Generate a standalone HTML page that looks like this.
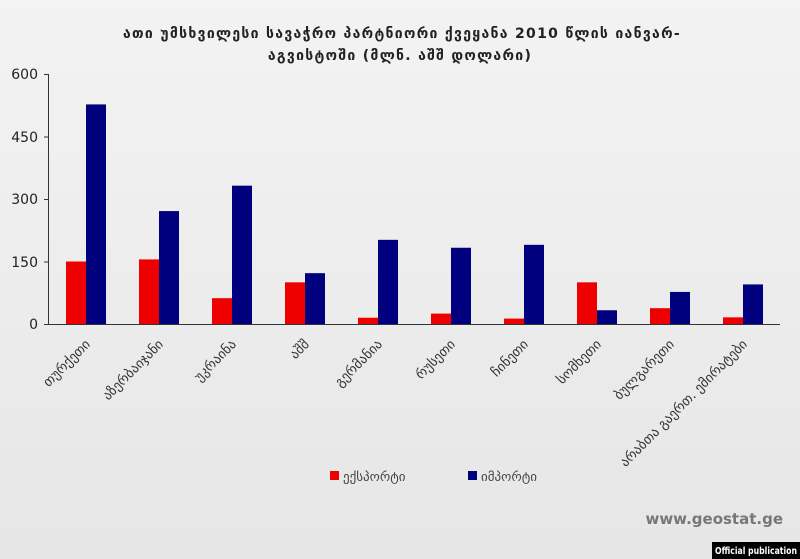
<!DOCTYPE html>
<html><head><meta charset="utf-8"><style>
body{margin:0;background:#eeeeee;}
svg{display:block}
text{font-family:"DejaVu Sans","Liberation Sans",sans-serif;}
</style></head><body>
<svg width="800" height="559" viewBox="0 0 800 559" xmlns="http://www.w3.org/2000/svg">
<defs><linearGradient id="g" x1="0" y1="0" x2="0" y2="1"><stop offset="0" stop-color="#f3f3f3"/><stop offset="1" stop-color="#e6e6e6"/></linearGradient></defs>
<rect width="800" height="559" fill="url(#g)"/>
<text x="402" y="38" text-anchor="middle" font-size="14" font-weight="bold" letter-spacing="1.3" fill="#222">ათი უმსხვილესი სავაჭრო პარტნიორი ქვეყანა 2010 წლის იანვარ-</text>
<text x="400" y="60" text-anchor="middle" font-size="14" font-weight="bold" letter-spacing="1.3" fill="#222">აგვისტოში  (მლნ. აშშ დოლარი)</text>
<g font-family="Liberation Sans" font-size="14" fill="#222" text-anchor="end">
<text x="38" y="79">600</text><text x="38" y="142">450</text><text x="38" y="204">300</text><text x="38" y="267">150</text><text x="38" y="329">0</text>
</g>
<g stroke="#333" stroke-width="1">
<line x1="48.5" y1="74" x2="48.5" y2="324"/>
<line x1="44" y1="74.5" x2="48" y2="74.5"/><line x1="44" y1="137" x2="48" y2="137"/><line x1="44" y1="199.5" x2="48" y2="199.5"/><line x1="44" y1="262" x2="48" y2="262"/><line x1="44" y1="324.5" x2="48" y2="324.5"/>
<line x1="48" y1="324.5" x2="780" y2="324.5"/>
</g>
<g id="bars"></g>
<g font-size="13.5" fill="#333" id="labels"></g>
<rect x="330" y="471" width="9" height="9" fill="#e00"/>
<text x="343" y="481" font-size="13" fill="#444">ექსპორტი</text>
<rect x="468" y="471" width="9" height="9" fill="#00007f"/>
<text x="481" y="481" font-size="13" fill="#444">იმპორტი</text>
<text x="783" y="524" text-anchor="end" font-family="Liberation Sans" font-size="15" font-weight="bold" fill="#777">www.geostat.ge</text>
<rect x="712" y="542" width="88" height="17" fill="#000"/>
<text x="715" y="554" font-family="Liberation Sans" font-size="10" font-weight="bold" fill="#fff" textLength="82" lengthAdjust="spacingAndGlyphs">Official publication</text>
<script>
var d=[["თურქეთი",150,527],["აზერბაიჯანი",155,271],["უკრაინა",62,332],["აშშ",100,122],["გერმანია",15,202],["რუსეთი",25,183],["ჩინეთი",13,190],["სომხეთი",100,33],["ბულგარეთი",38,77],["არაბთა გაერთ. ემირატები",16,95]];
var ns="http://www.w3.org/2000/svg",b=document.getElementById("bars"),l=document.getElementById("labels");
d.forEach(function(r,i){var c=86+i*73;
[[r[1],c-20,"#e00"],[r[2],c,"#00007f"]].forEach(function(v){var h=v[0]*250/600,e=document.createElementNS(ns,"rect");
e.setAttribute("x",v[1]);e.setAttribute("y",324-h);e.setAttribute("width",20);e.setAttribute("height",h);e.setAttribute("fill",v[2]);b.appendChild(e);});
var t=document.createElementNS(ns,"text");t.setAttribute("text-anchor","end");t.setAttribute("transform","translate("+(c+5)+",345) rotate(-45)");t.textContent=r[0];l.appendChild(t);});
</script>
</svg>
</body></html>
